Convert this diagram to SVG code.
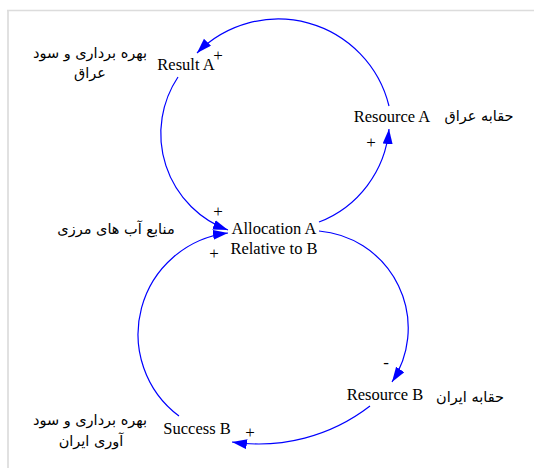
<svg xmlns="http://www.w3.org/2000/svg" width="534" height="468" viewBox="0 0 534 468">
<style>
.lbl{font-family:"Liberation Serif","Times New Roman",serif;font-size:16.5px;fill:#000;text-anchor:middle}
.pol{font-family:"Liberation Serif","Times New Roman",serif;font-size:17px;fill:#000;text-anchor:middle}
.fa{font-family:"DejaVu Sans","Noto Sans",sans-serif;font-size:14.5px;fill:#000;text-anchor:middle}
.link{fill:none;stroke:#0000FF;stroke-width:1.2;marker-end:url(#ah)}
</style>
<defs>
<marker id="ah" markerUnits="userSpaceOnUse" markerWidth="16" markerHeight="12" refX="15" refY="5" orient="auto" viewBox="0 0 16 12">
<path d="M0,0 L15,5 L0,10 z" fill="#0000FF"/>
</marker>
</defs>
<rect width="534" height="468" fill="#fff"/>
<path d="M7,10.5 H534 M8,10 V468" fill="none" stroke="#dcdcdc" stroke-width="1.7"/>

<g id="connectors">
<path class="link" d="M389,106 A114,114 0 0 0 197,53"/>
<path class="link" d="M178,77 A102.5,102.5 0 0 0 228,230"/>
<path class="link" d="M319,222 A110,110 0 0 0 389,129"/>
<path class="link" d="M319,231 A97.5,97.5 0 0 1 392,382"/>
<path class="link" d="M370,406 A182,182 0 0 1 232,442"/>
<path class="link" d="M179,416 A102,102 0 0 1 228,233"/>
<text class="pol" x="218" y="61">+</text>
<text class="pol" x="371" y="148">+</text>
<text class="pol" x="218" y="217">+</text>
<text class="pol" x="214" y="259">+</text>
<text class="pol" x="386" y="368">-</text>
<text class="pol" x="250" y="438">+</text>
</g>

<g id="result-a"><text class="lbl" x="186" y="70">Result A</text></g>
<g id="resource-a"><text class="lbl" x="392" y="122">Resource A</text></g>
<g id="allocation"><text class="lbl" x="274" y="234">Allocation A</text><text class="lbl" x="274" y="254">Relative to B</text></g>
<g id="resource-b"><text class="lbl" x="385" y="400">Resource B</text></g>
<g id="success-b"><text class="lbl" x="197" y="434">Success B</text></g>

<g id="notes">
<text class="fa" x="90" y="58">بهره برداری و سود</text>
<text class="fa" x="90" y="78">عراق</text>
<text class="fa" x="479" y="121">حقابه عراق</text>
<text class="fa" x="116" y="234">منابع آب های مرزی</text>
<text class="fa" x="470" y="402">حقابه ایران</text>
<text class="fa" x="90" y="425">بهره برداری و سود</text>
<text class="fa" x="91" y="446">آوری ایران</text>
</g>
</svg>
